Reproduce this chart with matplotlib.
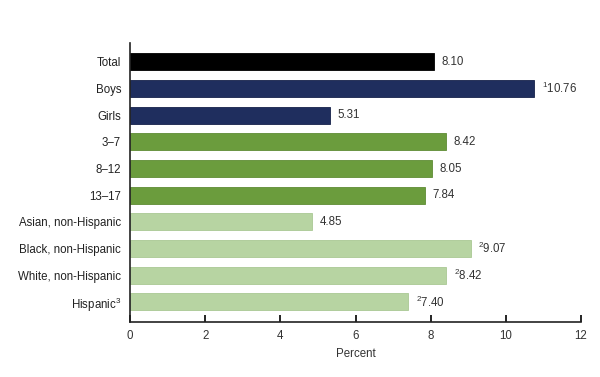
import matplotlib.pyplot as plt

plt.rcParams['font.family'] = ['Liberation Sans', 'DejaVu Sans']
plt.rcParams['mathtext.fontset'] = 'custom'
plt.rcParams['mathtext.rm'] = 'Liberation Sans'
plt.rcParams['mathtext.it'] = 'Liberation Sans'
plt.rcParams['mathtext.default'] = 'regular'

# Categories and values
categories = ['Total', 'Boys', 'Girls', '3\u20137', '8\u201312', '13\u201317',
              'Asian, non-Hispanic', 'Black, non-Hispanic', 'White, non-Hispanic',
              'Hispanic$^{3}$']
values = [8.10, 10.76, 5.31, 8.42, 8.05, 7.84, 4.85, 9.07, 8.42, 7.40]
notes = ['', '1', '', '', '', '', '', '2', '2', '2']
groups = ['total', 'sex', 'sex', 'age', 'age', 'age', 'race', 'race', 'race', 'race']

colors = {'total': '#000000', 'sex': '#1f2e5e', 'age': '#6b9c3d', 'race': '#b7d4a2'}
edges = {'total': '#000000', 'sex': '#16224a', 'age': '#5e8c34', 'race': '#a9c894'}

fig = plt.figure(figsize=(6.0, 3.77), dpi=100)
ax = fig.add_axes([0.217, 0.146, 0.751, 0.74])

y = list(range(len(categories)))
ax.barh(y, values, height=0.64,
        color=[colors[g] for g in groups],
        edgecolor=[edges[g] for g in groups], linewidth=0.6)

for yi, v, n in zip(y, values, notes):
    txt = f'{v:.2f}'
    if n:
        txt = '$^{' + n + '}$' + txt
    ax.text(v + 0.2, yi, txt, va='center', ha='left', fontsize=8.3, color='#333333')

ax.set_yticks(y)
ax.set_yticklabels(categories, fontsize=8.3, color='#222222')
ax.set_ylim(9.75, -0.71)
ax.set_xlim(0, 12)
ax.set_xticks([0, 2, 4, 6, 8, 10, 12])
ax.tick_params(axis='x', direction='in', length=5, width=1.2, labelsize=8.3,
               pad=6, labelcolor='#333333')
ax.tick_params(axis='y', length=0, pad=6.5)
ax.set_xlabel('Percent', fontsize=8.3, labelpad=4, color='#333333')

for s in ['top', 'right']:
    ax.spines[s].set_visible(False)
for s in ['left', 'bottom']:
    ax.spines[s].set_linewidth(1.2)
    ax.spines[s].set_color('#222222')

fig.savefig('out.png', dpi=100)
